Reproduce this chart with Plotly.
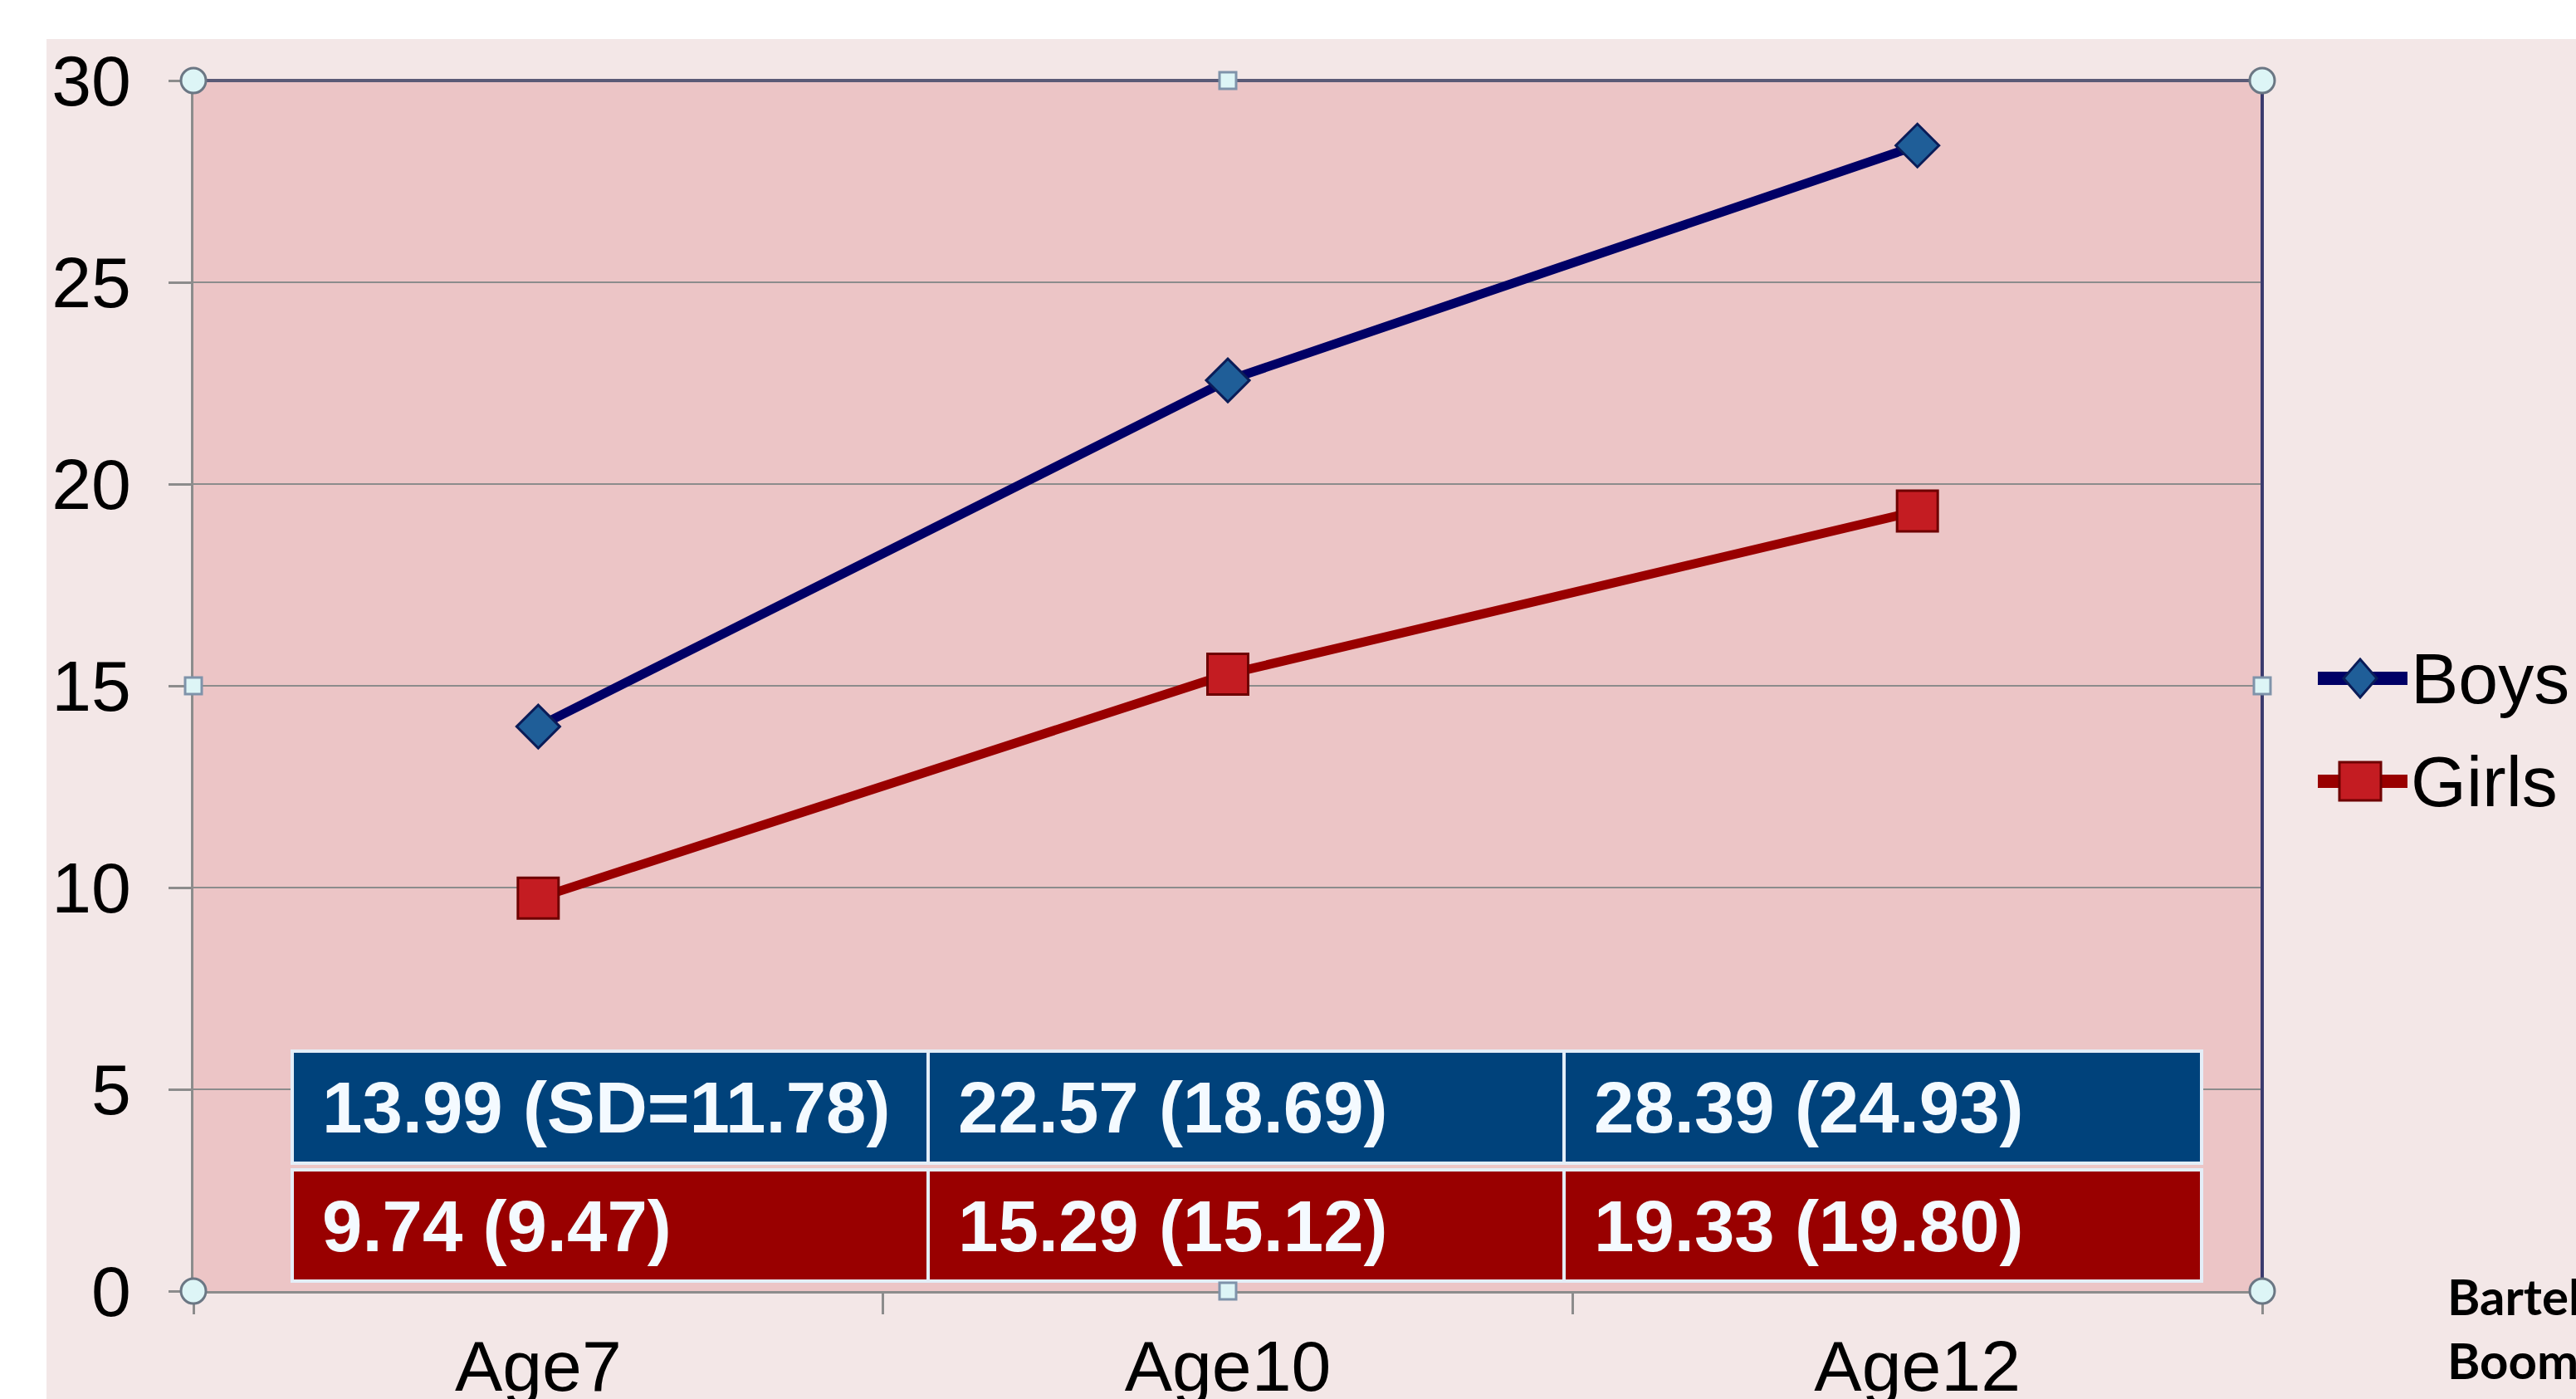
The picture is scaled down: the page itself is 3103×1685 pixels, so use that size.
import plotly.graph_objects as go

# ---- data ----
ages = ["Age7", "Age10", "Age12"]
boys_mean = [13.99, 22.57, 28.39]
boys_sd = [11.78, 18.69, 24.93]
girls_mean = [9.74, 15.29, 19.33]
girls_sd = [9.47, 15.12, 19.80]
y_ticks = [0, 5, 10, 15, 20, 25, 30]
series_names = ["Boys", "Girls"]
source_lines = ["Bartel", "Boom"]

W, H = 3103, 1685
L, R, T, B = 233, 378, 97, 130
PW, PH = W - L - R, H - T - B

def px_x(px):
    return (px - L) / PW

def px_y(py):
    return (H - B - py) / PH

OUTER = "#F3E7E7"
PLOT_BG = "#ECC5C6"
GRID = "#8C8C8C"
BOY_LINE = "#000066"
GIRL_LINE = "#990000"
BOY_MK = "#1F5E98"
BOY_MK_LINE = "#0A1C58"
GIRL_MK = "#C41C22"
GIRL_MK_LINE = "#6E0000"

fig = go.Figure()
fig.add_trace(go.Scatter(
    x=ages, y=boys_mean, name=series_names[0], mode="lines+markers",
    line=dict(color=BOY_LINE, width=11),
    marker=dict(symbol="diamond", size=40, color=BOY_MK,
                line=dict(color=BOY_MK_LINE, width=3)),
    showlegend=False,
))
fig.add_trace(go.Scatter(
    x=ages, y=girls_mean, name=series_names[1], mode="lines+markers",
    line=dict(color=GIRL_LINE, width=11),
    marker=dict(symbol="square", size=49, color=GIRL_MK,
                line=dict(color=GIRL_MK_LINE, width=3)),
    showlegend=False,
))

shapes = []
# white margins top / left (outside the pink slide area)
shapes.append(dict(type="rect", xref="paper", yref="paper", x0=px_x(-10), x1=px_x(W + 10),
                   y0=px_y(47), y1=px_y(-10), fillcolor="white", line=dict(width=0), layer="below"))
shapes.append(dict(type="rect", xref="paper", yref="paper", x0=px_x(-10), x1=px_x(56),
                   y0=px_y(H + 10), y1=px_y(-10), fillcolor="white", line=dict(width=0), layer="below"))

# data table drawn inside the plot
col_edges = [px_x(352), px_x(1118), px_x(1884), px_x(2652)]
rows = [
    (px_y(1266), px_y(1401), "#00427B",
     [f"{m:.2f} (SD={s:.2f})" if i == 0 else f"{m:.2f} ({s:.2f})"
      for i, (m, s) in enumerate(zip(boys_mean, boys_sd))]),
    (px_y(1409), px_y(1543), "#990000",
     [f"{m:.2f} ({s:.2f})" for m, s in zip(girls_mean, girls_sd)]),
]
annotations = []
for (ytop, ybot, fill, texts) in rows:
    for c in range(3):
        shapes.append(dict(type="rect", xref="paper", yref="paper",
                           x0=col_edges[c], x1=col_edges[c + 1], y0=ybot, y1=ytop,
                           fillcolor=fill, line=dict(color="#E4EEF8", width=4), layer="above"))
        annotations.append(dict(xref="paper", yref="paper", x=col_edges[c] + 34 / PW,
                                y=(ytop + ybot) / 2, xanchor="left", yanchor="middle",
                                text=texts[c], showarrow=False,
                                font=dict(family="Liberation Sans", size=87, color="#F4FAFF",
                                          weight="bold")))

# border lines (top and right)
shapes.append(dict(type="line", xref="paper", yref="paper", x0=0, x1=1, y0=1, y1=1,
                   line=dict(color="#5A5A76", width=4), layer="above"))
shapes.append(dict(type="line", xref="paper", yref="paper", x0=1, x1=1, y0=0, y1=1,
                   line=dict(color="#3B3B6E", width=4), layer="above"))

# selection handles
for (hx, hy) in [(0, 0), (0, 1), (1, 0), (1, 1)]:
    shapes.append(dict(type="circle", xref="paper", yref="paper", xsizemode="pixel",
                       ysizemode="pixel", xanchor=hx, yanchor=hy, x0=-15, x1=15, y0=-15, y1=15,
                       fillcolor="#DDF5F6", line=dict(color="#6B7784", width=3), layer="above"))
for (hx, hy) in [(0.5, 0), (0.5, 1), (0, 0.5), (1, 0.5)]:
    shapes.append(dict(type="rect", xref="paper", yref="paper", xsizemode="pixel",
                       ysizemode="pixel", xanchor=hx, yanchor=hy, x0=-10, x1=10, y0=-10, y1=10,
                       fillcolor="#DDF5F6", line=dict(color="#7F93AA", width=3), layer="above"))

# legend (drawn manually to get the long line + large symbols)
legend_rows = [
    (series_names[0], 817, BOY_LINE, "M0,23 L20,0 L0,-23 L-20,0 Z", BOY_MK, BOY_MK_LINE),
    (series_names[1], 941, GIRL_LINE, "M-25,23 L25,23 L25,-23 L-25,-23 Z", GIRL_MK, GIRL_MK_LINE),
]
for name, py, lc, sym, fc, flc in legend_rows:
    shapes.append(dict(type="line", xref="paper", yref="paper", x0=px_x(2792), x1=px_x(2900),
                       y0=px_y(py), y1=px_y(py), line=dict(color=lc, width=16), layer="above"))
    shapes.append(dict(type="path", xref="paper", yref="paper", xsizemode="pixel",
                       ysizemode="pixel", xanchor=px_x(2843), yanchor=px_y(py), path=sym,
                       fillcolor=fc, line=dict(color=flc, width=3), layer="above"))
    annotations.append(dict(xref="paper", yref="paper", x=px_x(2902), y=px_y(py),
                            xanchor="left", yanchor="middle", text=name, showarrow=False,
                            font=dict(family="Liberation Sans", size=86, color="black")))

# source text bottom-right
for txt, py in zip(source_lines, [1561, 1638]):
    annotations.append(dict(xref="paper", yref="paper", x=px_x(2946), y=px_y(py),
                            xanchor="left", yanchor="middle", text=txt, showarrow=False,
                            font=dict(family="Lato", size=60, color="black", weight="bold")))

fig.update_layout(
    width=W, height=H, autosize=False,
    margin=dict(l=L, r=R, t=T, b=B, autoexpand=False),
    paper_bgcolor=OUTER, plot_bgcolor=PLOT_BG,
    font=dict(family="Liberation Sans", color="black"),
    shapes=shapes, annotations=annotations,
    showlegend=False,
    xaxis=dict(type="category", range=[-0.5, 2.5], tickson="boundaries",
               ticks="outside", ticklen=25, tickwidth=3, tickcolor=GRID,
               showline=True, linecolor=GRID, linewidth=3, showgrid=False,
               tickfont=dict(size=86), ticklabelstandoff=14, automargin=False),
    yaxis=dict(range=[0, 30], tickvals=y_ticks, showgrid=True, gridcolor=GRID, gridwidth=2,
               showline=True, linecolor=GRID, linewidth=3, zeroline=False,
               ticks="outside", ticklen=27, tickwidth=3, tickcolor=GRID,
               tickfont=dict(size=86), ticklabelstandoff=28, automargin=False),
)

fig.write_html("out.html", config={"displayModeBar": False},
               post_script="document.body.style.margin='0';")
